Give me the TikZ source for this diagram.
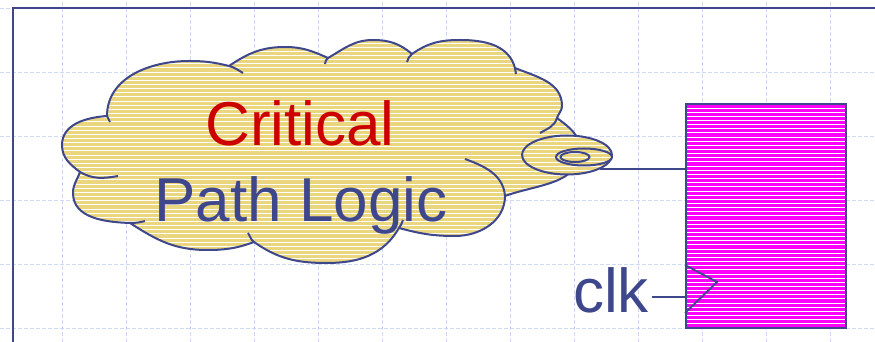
\documentclass[tikz,border=0pt]{standalone}
\usepackage{fontspec}
\setmainfont{Liberation Sans}
\usetikzlibrary{shapes.geometric, positioning}
\definecolor{inkblue}{RGB}{62, 70, 140}
\definecolor{critred}{RGB}{204, 0, 0}
\definecolor{cloudgold}{RGB}{235, 214, 128}
\definecolor{regpink}{RGB}{255, 0, 255}
\definecolor{gridblue}{RGB}{205, 218, 245}

\begin{document}
\begin{tikzpicture}[
  x=1pt, y=1pt,
  gridline/.style = { draw=gridblue, line width=0.8pt, dash pattern=on 4pt off 2pt },
  frame/.style = { draw=inkblue, line width=2pt },
  stripes/.style = { path picture={
      \foreach \s in {0,...,90}
        \draw[white, line width=1pt]
          ([yshift=\s*4.15pt]path picture bounding box.south west) --
          ([yshift=\s*4.15pt]path picture bounding box.south east);
    }},
  outline/.style = { draw=inkblue, line width=2pt },
  puff/.style = { ellipse, outline, fill=cloudgold, stripes, inner sep=0pt },
  regbox/.style = {
    rectangle, draw=inkblue, line width=2pt, fill=regpink, stripes,
    minimum width=160pt, minimum height=224pt, inner sep=0pt
  },
  wire/.style = { draw=inkblue, line width=1.8pt },
  lbl/.style = { font=\fontsize{62}{70}\selectfont, inner sep=0pt }
]
\useasboundingbox (0,0) rectangle (875,342);

\foreach \gx in {62,126,...,830} \draw[gridline] (\gx,0) -- (\gx,342);
\foreach \gy in {14,78,...,334} \draw[gridline] (0,\gy) -- (875,\gy);
\draw[frame] (13,0) -- (13,334) -- (875,334);

\path[outline, fill=cloudgold, stripes]
  (107,226) to[out=184,in=90] (62,197) to[out=-90,in=143] (80,170)
  to[out=250,in=90] (73,149) to[out=-90,in=178] (130,119)
  to[out=-33,in=180] (207,92) to[out=0,in=200] (254,100)
  to[out=-35,in=180] (327,79) to[out=0,in=240] (399,114)
  to[out=-15,in=180] (455,106) to[out=0,in=-90] (505,146)
  to[out=20,in=-90] (580,192) to[out=90,in=-37] (557,224)
  to[out=73,in=-90] (562,236) to[out=90,in=-22] (515,274)
  to[out=105,in=0] (460,302) to[out=180,in=35] (412,288)
  to[out=140,in=0] (373,302) to[out=180,in=30] (328,284)
  to[out=156,in=0] (285,295) to[out=180,in=34] (229,276)
  to[out=166,in=0] (189,281) to[out=180,in=90] (107,226) -- cycle;
\draw[outline]
  (107,226) to[out=-85,in=95] (110,220)
  (80,170) to[out=-30,in=190] (118,166)
  (130,119) to[out=0,in=195] (145,121)
  (248,109) to[out=-55,in=145] (254,100)
  (399,114) to[out=60,in=-105] (403,122)
  (505,146) to[out=95,in=-20] (465,183)
  (557,224) to[out=-107,in=30] (540,209)
  (515,274) to[out=-80,in=95] (516,268)
  (412,288) to[out=215,in=70] (407,280)
  (328,284) to[out=210,in=75] (325,278)
  (229,276) to[out=-14,in=150] (243,269);

\node[puff, minimum width=90pt, minimum height=39pt] (bubble) at (567,187) {};
\node[puff, minimum width=56pt, minimum height=17pt] (bubmid) at (584,185) {};
\node[puff, minimum width=29pt, minimum height=10pt] (bubin) at (575,185) {};

\node[regbox] (reg) at (766,126) {};
\draw[wire] (bubble.-23) -- (bubble.-23 -| reg.west);

\coordinate (clkpin) at ([yshift=32pt]reg.south west);
\draw[wire] ([yshift=64pt]reg.south west) -- ([xshift=32pt,yshift=47pt]reg.south west)
  -- ([yshift=16pt]reg.south west);
\node[lbl, text=inkblue, anchor=base east] (clk) at ([xshift=-36pt,yshift=-16pt]clkpin) {clk};
\draw[wire] ([xshift=3pt]clk.east |- clkpin) -- (clkpin);

\node[lbl, text=critred, anchor=base] (crit) at (300,196) {Critical};
\node[lbl, text=inkblue, anchor=base] (plogic) at (301,120) {Path Logic};

\end{tikzpicture}
\end{document}
